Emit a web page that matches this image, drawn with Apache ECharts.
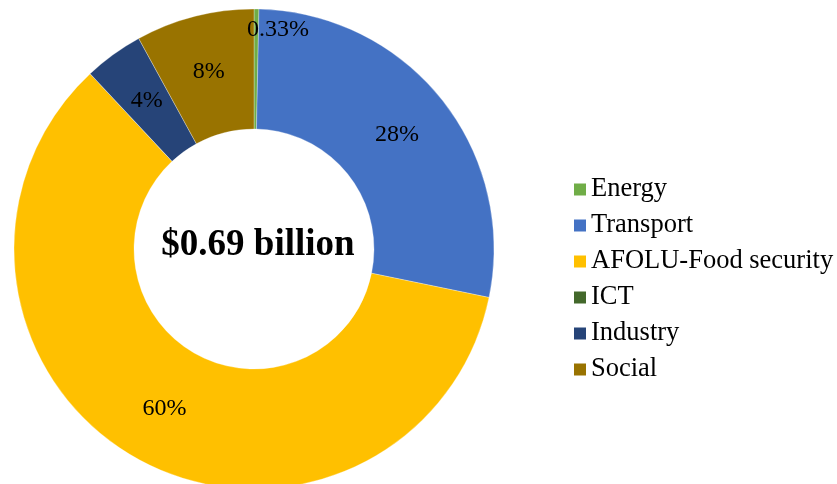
<!DOCTYPE html>
<html>
<head>
<meta charset="utf-8">
<script src="https://cdn.jsdelivr.net/npm/echarts@6/dist/echarts.min.js"></script>
<style>
  html, body { margin: 0; padding: 0; background: #ffffff; }
  #chart { width: 837px; height: 484px; }
</style>
</head>
<body>
<div id="chart"></div>
<script>
// Sector categories and their shares of the total (percent)
const categories = ['Energy', 'Transport', 'AFOLU-Food security', 'ICT', 'Industry', 'Social'];
const shares = [0.33, 28, 60, 0, 4, 8];
const colors = ['#70AD47', '#4472C4', '#FFC000', '#43682B', '#264478', '#997300'];
const totalLabel = '$0.69 billion';

const FONT = '"Liberation Serif", "Times New Roman", serif';

const chart = echarts.init(document.getElementById('chart'), null, { renderer: 'canvas' });

const pieData = categories.map((name, i) => ({
  name: name,
  value: shares[i],
  itemStyle: { color: colors[i] }
}));

chart.setOption({
  animation: false,
  backgroundColor: '#ffffff',
  legend: {
    orient: 'vertical',
    left: 569,
    top: 171,
    itemWidth: 12,
    itemHeight: 12,
    itemGap: 9,
    icon: 'rect',
    data: categories,
    itemStyle: { borderWidth: 0 },
    textStyle: {
      fontFamily: FONT,
      fontSize: 26.5,
      lineHeight: 26,
      color: '#000000'
    }
  },
  graphic: [{
    type: 'text',
    x: 258,
    y: 245,
    style: {
      text: totalLabel,
      align: 'center',
      verticalAlign: 'middle',
      fontFamily: FONT,
      fontWeight: 'bold',
      fontSize: 37,
      fill: '#000000'
    }
  }],
  series: [{
    type: 'pie',
    center: [254, 249],
    radius: [120, 240],
    startAngle: 90,
    clockwise: true,
    avoidLabelOverlap: false,
    itemStyle: { borderColor: 'rgba(255,255,255,0.6)', borderWidth: 0.5 },
    label: {
      show: true,
      position: 'inside',
      fontFamily: FONT,
      fontSize: 24,
      color: '#000000',
      formatter: p => (p.value ? p.value + '%' : '')
    },
    labelLine: { show: false },
    labelLayout: function (params) {
      // the tiny first slice carries its label just above and to the right
      if (params.dataIndex === 0) {
        return { dx: 22, dy: -36 };
      }
      return {};
    },
    emphasis: { disabled: true },
    data: pieData
  }]
});
</script>
</body>
</html>
